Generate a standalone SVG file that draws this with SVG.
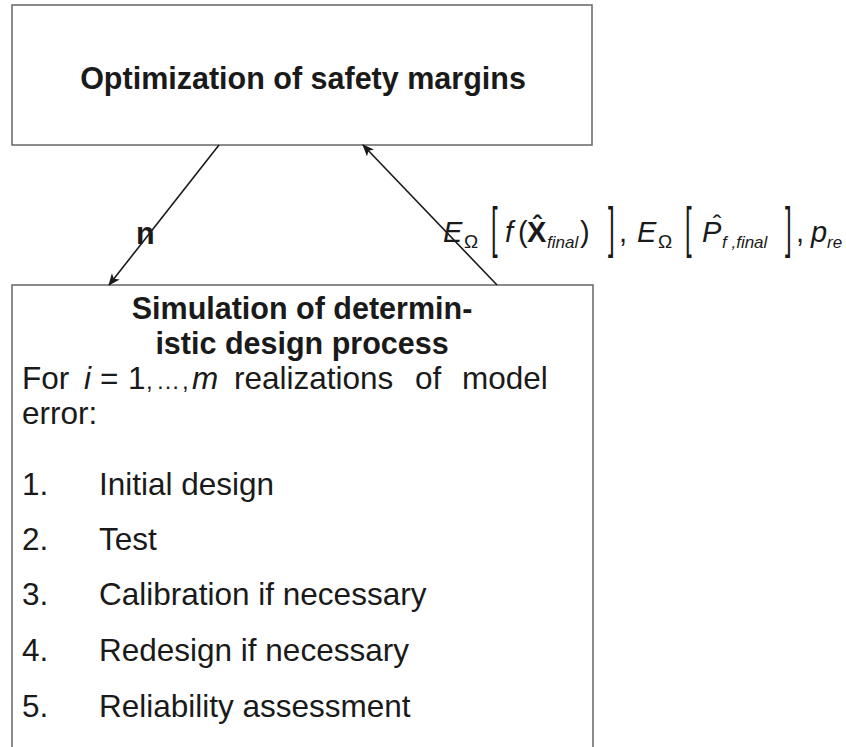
<svg xmlns="http://www.w3.org/2000/svg" width="846" height="747" viewBox="0 0 846 747">
<style>
.box{fill:#fff;stroke:#666;stroke-width:1.5}
.conn{fill:none;stroke:#1a1a1a;stroke-width:1.6}
text{font-family:"Liberation Sans",Arial,sans-serif;fill:#1a1a1a}
.title{font-size:30.5px;font-weight:bold}
.body{font-size:31.5px}
.m{font-size:29px;font-style:italic}
.mu{font-size:29px}
.sub{font-size:17px;font-style:italic}
.subu{font-size:19px}
.br{font-size:24px}
.hat{font-size:26px}
</style>
<defs>
<marker id="ah" viewBox="0 0 12 10" refX="11" refY="5" markerWidth="12" markerHeight="10" markerUnits="userSpaceOnUse" orient="auto">
<path d="M0,0 L12,5 L0,10 L3,5 z" fill="#1a1a1a"/>
</marker>
</defs>
<g id="node-optimization">
<rect class="box" x="12" y="5" width="580" height="140"/>
<text class="title" x="303" y="89" text-anchor="middle">Optimization of safety margins</text>
</g>
<g id="node-simulation">
<path class="box" d="M12,760 L12,285 L593,285 L593,760"/>
<text class="title" x="302" y="319" text-anchor="middle">Simulation of determin-</text>
<text class="title" x="302" y="354" text-anchor="middle">istic design process</text>
<text class="body" y="389"><tspan x="22">For</tspan><tspan x="84" font-style="italic">i</tspan><tspan x="100">=</tspan><tspan x="128">1</tspan><tspan x="146" font-size="24">,</tspan><tspan x="156" font-size="24">…</tspan><tspan x="182" font-size="24">,</tspan><tspan x="192" font-style="italic">m</tspan><tspan x="234">realizations</tspan><tspan x="415">of</tspan><tspan x="462">model</tspan></text>
<text class="body" x="22" y="424">error:</text>
<text class="body" x="22" y="495">1.</text><text class="body" x="99" y="495">Initial design</text>
<text class="body" x="22" y="550">2.</text><text class="body" x="99" y="550">Test</text>
<text class="body" x="22" y="605">3.</text><text class="body" x="99" y="605">Calibration if necessary</text>
<text class="body" x="22" y="661">4.</text><text class="body" x="99" y="661">Redesign if necessary</text>
<text class="body" x="22" y="717">5.</text><text class="body" x="99" y="717">Reliability assessment</text>
</g>
<g id="connectors">
<line class="conn" x1="219" y1="145" x2="109" y2="285" marker-end="url(#ah)"/>
<line class="conn" x1="497" y1="285" x2="363" y2="145" marker-end="url(#ah)"/>
<text class="title" x="136" y="244">n</text>
<g id="label-outputs">
<text class="m" x="443" y="242">E</text>
<text class="subu" x="464" y="248">Ω</text>
<text class="br" transform="translate(491,246) scale(1,2.35)">[</text>
<text class="m" x="505" y="242">f</text>
<text class="mu" x="518" y="242">(</text>
<text class="mu" x="527" y="242" font-weight="bold">X</text>
<text class="hat" x="537" y="234" text-anchor="middle" font-weight="bold">ˆ</text>
<text class="sub" x="547" y="248">final</text>
<text class="mu" x="580" y="242">)</text>
<text class="br" transform="translate(608,246) scale(1,2.35)">]</text>
<text class="mu" x="619" y="242">,</text>
<text class="m" x="637" y="242">E</text>
<text class="subu" x="658" y="248">Ω</text>
<text class="br" transform="translate(685,246) scale(1,2.35)">[</text>
<text class="m" x="702" y="242">P</text>
<text class="hat" x="717" y="233" text-anchor="middle">ˆ</text>
<text class="sub" x="722" y="248">f ,final</text>
<text class="br" transform="translate(785,246) scale(1,2.35)">]</text>
<text class="mu" x="796" y="242">,</text>
<text class="m" x="811" y="242">p</text>
<text class="sub" x="827" y="248">re</text>
</g>
</g>
</svg>
